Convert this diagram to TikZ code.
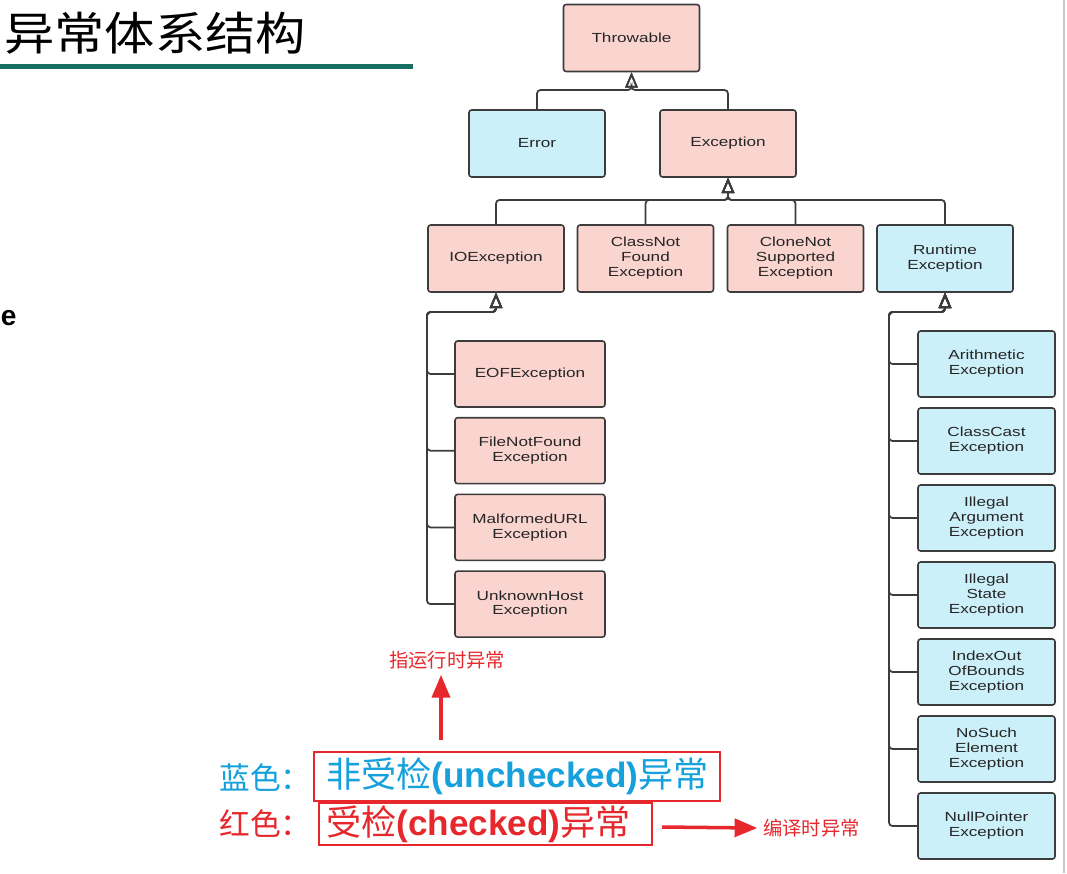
\documentclass[tikz,border=0pt]{standalone}
\usepackage{fontspec}
\setmainfont{Liberation Sans}
\newfontfamily\boxfont{Liberation Sans}[FakeStretch=1.3]
\newfontfamily\cjk{Noto Sans CJK SC}
\newfontfamily\cjkwide{Noto Sans CJK SC}[FakeStretch=1.1]
\usetikzlibrary{shapes}
\usetikzlibrary{arrows}
\definecolor{checkedpink}{RGB}{250,212,207}
\definecolor{uncheckedblue}{RGB}{204,240,249}
\definecolor{edgegrey}{RGB}{60,60,60}
\definecolor{titleteal}{RGB}{24,112,100}
\definecolor{notered}{RGB}{230,40,45}
\definecolor{noteblue}{RGB}{22,160,220}
\tikzset{
  class_node/.style = {align=center, inner sep=0pt, text centered, rectangle,
    rounded corners=1.5pt, draw=edgegrey, line width=0.9pt, text=black!85,
    font=\boxfont\fontsize{7.5}{8.5}\selectfont,
    minimum width=2.72cm, minimum height=1.34cm},
  checked_node/.style = {class_node, fill=checkedpink},% rouge: checked
  unchecked_node/.style = {class_node, fill=uncheckedblue},% bleu: unchecked
  io_node/.style = {checked_node, minimum width=3cm, minimum height=1.32cm},
  rt_node/.style = {unchecked_node, minimum width=2.74cm, minimum height=1.32cm},
  extends_edge/.style = {draw=edgegrey, line width=1pt, rounded corners=2pt,
    -open triangle 45},
  note_arrow/.style = {draw=notered, line width=2pt, -triangle 45},
  note_box/.style = {draw=notered, line width=1.6pt, align=left, inner ysep=0pt,
    font=\cjk\fontsize{20}{23}\selectfont},
  key_text/.style = {anchor=west, inner sep=0pt, font=\cjk\fontsize{17.5}{20}\selectfont},
  note_text/.style = {text=notered, font=\cjk\fontsize{11}{13}\selectfont}
}

\begin{document}
\begin{tikzpicture}[x=0.02cm, y=-0.02cm]
  \useasboundingbox (0,0) rectangle (1067,873);
  \clip (0,0) rectangle (1067,873);

  % titre
  \node[anchor=west, inner sep=0pt, font=\cjkwide\fontsize{26}{30}\selectfont] (title) at (4,33) {异常体系结构};
  \draw[titleteal, line width=2.9pt] (0,66.5) -- (413,66.5);
  \node[anchor=west, inner sep=0pt, font=\bfseries\fontsize{16}{18}\selectfont] (cutoff) at (0.5,318) {e};
  \draw[black!22, line width=1.6pt] (1064,0) -- (1064,873);

  % hierarchie
  \node[checked_node] (throwable) at (631.5,38) {Throwable};
  \node[unchecked_node] (error) at (537,143.5) {Error};
  \node[checked_node] (exception) at (728,143.5) {Exception};
  \node[checked_node] (ioexc) at (496,258.5) {IOException};
  \node[checked_node] (cnf) at (645.5,258.5) {ClassNot\\Found\\Exception};
  \node[checked_node] (cns) at (795.5,258.5) {CloneNot\\Supported\\Exception};
  \node[unchecked_node] (runtime) at (945,258.5) {Runtime\\Exception};

  \coordinate (throwjoin) at (631.5,90);
  \coordinate (excjoin) at (728,200);
  \coordinate (iobus) at (427,312);
  \coordinate (rtbus) at (889,312);

  \foreach \c in {error,exception}
    \draw[extends_edge] (\c.north) |- (throwjoin) -- (throwable.south);
  \foreach \c in {ioexc,cnf,cns,runtime}
    \draw[extends_edge] (\c.north) |- (excjoin) -- (exception.south);

  % IOException
  \foreach \name/\txt [count=\i] in {eof/EOFException, fnf/{FileNotFound\\Exception},
      murl/{MalformedURL\\Exception}, uhost/{UnknownHost\\Exception}} {
    \node[io_node] (\name) at (530,{374+76.7*(\i-1)}) {\txt};
    \draw[extends_edge] (\name.west) -| (iobus) -| (ioexc.south);
  }

  % RuntimeException
  \foreach \name/\txt [count=\i] in {arith/{Arithmetic\\Exception}, ccast/{ClassCast\\Exception},
      illarg/{Illegal\\Argument\\Exception}, illstate/{Illegal\\State\\Exception},
      ioob/{IndexOut\\OfBounds\\Exception}, nse/{NoSuch\\Element\\Exception},
      npe/{NullPointer\\Exception}} {
    \node[rt_node] (\name) at (986.5,{364+77*(\i-1)}) {\txt};
    \draw[extends_edge] (\name.west) -| (rtbus) -| (runtime.south);
  }

  % legende
  \node[key_text, text=noteblue] (bluekey) at (219,777) {蓝色：};
  \node[note_box, minimum height=0.98cm, text width=7.64cm, inner xsep=0.24cm,
    text=noteblue] (uncheckedbox) at (517,776.5) {非受检{\normalfont\bfseries (unchecked)}异常};
  \node[key_text, text=notered] (redkey) at (219,823) {红色：};
  \node[note_box, minimum height=0.84cm, text width=6.38cm, inner xsep=0.14cm,
    text=notered] (checkedbox) at (485.5,824) {受检{\normalfont\bfseries (checked)}异常};

  \coordinate (uptail) at (441,740);
  \coordinate (righttail) at (662,827);
  \node[note_text] (runtimenote) at (447,660) {指运行时异常};
  \node[note_text, anchor=west] (compilenote) at (757,828) {编译时异常};
  \draw[note_arrow] (uptail) -- (uptail |- runtimenote.south);
  \draw[note_arrow] (righttail) -- (compilenote.west);
\end{tikzpicture}
\end{document}
